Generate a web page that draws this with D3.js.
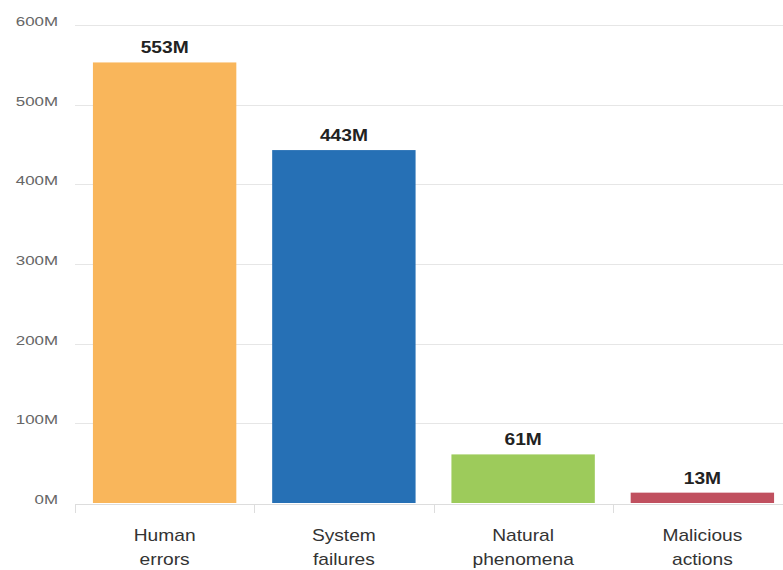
<!DOCTYPE html>
<html><head><meta charset="utf-8">
<script src="https://cdn.jsdelivr.net/npm/d3@7"></script>
<style>body{margin:0;background:#fff;}svg{display:block;font-family:"Liberation Sans",Arial,sans-serif;}</style>
</head><body>
<svg id="c" width="783" height="570"></svg>
<script>
const categories = [["Human","errors"],["System","failures"],["Natural","phenomena"],["Malicious","actions"]];
const values = [553, 443, 61, 13];
const colors = ["#F9B65B", "#2670B5", "#9DCB5B", "#C0505F"];
const yTicks = [0, 100, 200, 300, 400, 500, 600];

(function(){
const svg = d3.select("#c");
const mLeft = 75, mRight = 792, mTop = 25, mBottom = 503;
const keys = categories.map((c,i)=>i);
const x = d3.scaleBand().domain(keys).range([mLeft, mRight]).paddingInner(0.2).paddingOuter(0.1);
const y = d3.scaleLinear().domain([0, 600]).range([mBottom, mTop]);

// gridlines
svg.append("g").selectAll("line").data(yTicks.filter(t=>t>0)).join("line")
  .attr("x1", mLeft).attr("x2", 783)
  .attr("y1", d=>Math.round(y(d))+0.5).attr("y2", d=>Math.round(y(d))+0.5)
  .attr("stroke", "#e6e6e6").attr("stroke-width", 1);

// y labels
svg.append("g").selectAll("text").data(yTicks).join("text")
  .attr("transform", d=>`translate(58,${y(d)+1}) scale(1.3,1)`)
  .attr("text-anchor", "end").attr("font-size", 13).attr("fill", "#666")
  .text(d=>d+"M");

// bars
svg.append("g").selectAll("rect").data(values).join("rect")
  .attr("x", (d,i)=>x(i)).attr("width", x.bandwidth())
  .attr("y", d=>y(d)).attr("height", d=>mBottom - y(d))
  .attr("fill", (d,i)=>colors[i]);

// axis
const ax = svg.append("g");
ax.append("line").attr("x1", mLeft).attr("x2", 783).attr("y1", mBottom+1.5).attr("y2", mBottom+1.5).attr("stroke", "#ddd");
const step = x.step();
const tickXs = keys.map(i => x(i) - (step - x.bandwidth())/2);
ax.selectAll(".tk").data(tickXs).join("line").attr("class","tk")
  .attr("x1", d=>Math.round(d)+0.5).attr("x2", d=>Math.round(d)+0.5)
  .attr("y1", mBottom+1).attr("y2", mBottom+10).attr("stroke", "#ddd");

// category labels
const cg = svg.append("g").selectAll("g").data(categories).join("g")
  .attr("transform", (d,i)=>`translate(${x(i)+x.bandwidth()/2},541)`);
cg.selectAll("text").data(d=>d).join("text")
  .attr("transform", (d,j)=>`translate(0,${j*24}) scale(1.2,1)`)
  .attr("text-anchor", "middle").attr("font-size", 16).attr("fill", "#333")
  .text(d=>d);

// value labels
svg.append("g").selectAll("text").data(values).join("text")
  .attr("transform", (d,i)=>`translate(${x(i)+x.bandwidth()/2},${y(d)-9}) scale(1.2,1)`)
  .attr("text-anchor", "middle").attr("font-size", 16).attr("font-weight", "bold").attr("fill", "#222")
  .text(d=>d+"M");
})();
</script>
</body></html>
